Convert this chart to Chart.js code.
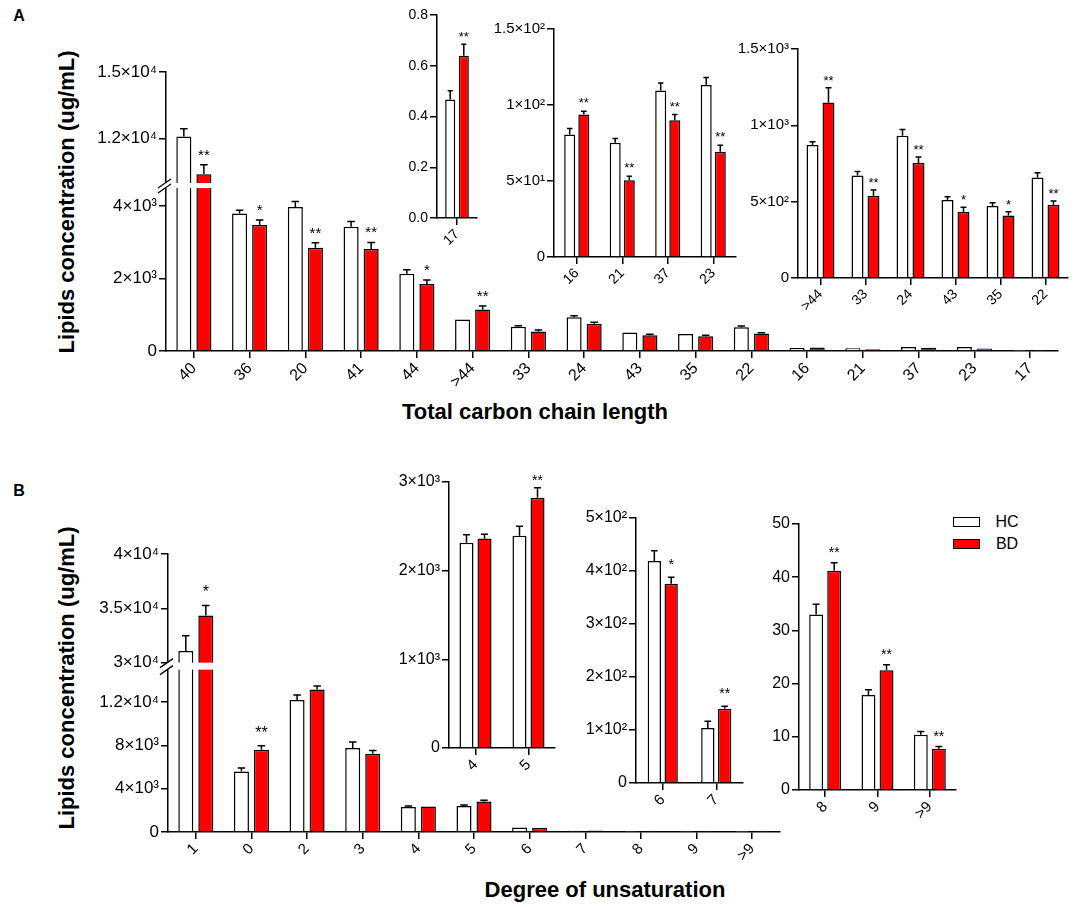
<!DOCTYPE html>
<html><head><meta charset="utf-8">
<script src="https://cdn.jsdelivr.net/npm/chart.js@4.4.0/dist/chart.umd.min.js"></script>
<style>
html,body{margin:0;padding:0;background:#fff;}
#page{position:relative;width:1084px;height:907px;overflow:hidden;font-family:'Liberation Sans',Arial,Helvetica,sans-serif;color:#000;background:#fff;}
.box{position:absolute;}
.t{position:absolute;white-space:nowrap;line-height:1;transform:translate(-50%,-50%);}
.b{font-weight:bold;}
.rot{transform:translate(-50%,-50%) rotate(-90deg);}
.sw{position:absolute;box-sizing:border-box;border:1.5px solid #000;}
</style></head>
<body><div id="page">
<div class="t b" style="left:19px;top:16px;font-size:16px;">A</div>
<div class="t b" style="left:19px;top:491px;font-size:16px;">B</div>
<div class="t b rot" style="left:67px;top:202px;font-size:22px;">Lipids concentration (ug/mL)</div>
<div class="t b rot" style="left:67px;top:678px;font-size:22px;">Lipids concentration (ug/mL)</div>
<div class="t b" style="left:535px;top:412px;font-size:22px;">Total carbon chain length</div>
<div class="t b" style="left:605px;top:890px;font-size:22px;">Degree of unsaturation</div>
<div class="sw" style="left:953px;top:517px;width:27px;height:10px;background:#fff;"></div>
<div class="sw" style="left:953px;top:539px;width:27px;height:10px;background:#ff0000;"></div>
<div class="t" style="left:1007px;top:522px;font-size:16px;">HC</div>
<div class="t" style="left:1007px;top:544px;font-size:16px;">BD</div>
</div>
<script>
// ---------- Panel A data: total carbon chain length ----------
const catsA   = ['40','36','20','41','44','>44','33','24','43','35','22','16','21','37','23','17'];
const hcA     = [12100, 3800, 3980, 3430, 2135, 871, 671, 932, 511, 472, 658, 80.6, 75.2, 109.5, 113.1, 0.467];
const hcErrA  = [350, 90, 150, 150, 110, 22, 26, 40, 22, 21, 31, 3.9, 2.8, 4.9, 5.0, 0.034];
const bdA     = [10400, 3480, 2850, 2820, 1850, 1149, 539, 753, 432, 410, 480, 93.7, 50.5, 90.0, 69.3, 0.639];
const bdErrA  = [430, 140, 140, 180, 110, 97, 38, 39, 31, 24, 25, 2.2, 2.6, 3.7, 4.3, 0.046];
const starsA     = ['**','*','**','**','*','**','**','**','*','*','**','**','**','**','**','**'];
const mainStarsA = ['**','*','**','**','*','**','','','','','','','','','',''];

// ---------- Panel B data: degree of unsaturation ----------
const catsB   = ['1','0','2','3','4','5','6','7','8','9','>9'];
const hcB     = [31080, 5600, 12200, 7760, 2316, 2395, 419, 104, 33.0, 17.85, 10.4];
const hcErrB  = [1400, 310, 460, 550, 90, 105, 19, 12.5, 1.9, 1.0, 0.6];
const bdB     = [34340, 7600, 13170, 7230, 2362, 2821, 376, 140, 41.2, 22.5, 7.76];
const bdErrB  = [920, 370, 310, 310, 50, 115, 12, 5, 1.5, 1.05, 0.4];
const starsB     = ['*','**','','','','**','*','**','**','**','**'];
const mainStarsB = ['*','**','','','','','','','','',''];

// ---------- tick values / labels ----------
const tickA    = [0, 2000, 4000, 12000, 15000];
const tickALbl = ['0','2×10³','4×10³','1.2×10⁴','1.5×10⁴'];
const tickA1    = [0, 0.2, 0.4, 0.6, 0.8];
const tickA1Lbl = ['0.0','0.2','0.4','0.6','0.8'];
const tickA2    = [0, 50, 100, 150];
const tickA2Lbl = ['0','5×10¹','1×10²','1.5×10²'];
const tickA3    = [0, 500, 1000, 1500];
const tickA3Lbl = ['0','5×10²','1×10³','1.5×10³'];
const tickB    = [0, 4000, 8000, 12000, 30000, 35000, 40000];
const tickBLbl = ['0','4×10³','8×10³','1.2×10⁴','3×10⁴','3.5×10⁴','4×10⁴'];
const tickB1    = [0, 1000, 2000, 3000];
const tickB1Lbl = ['0','1×10³','2×10³','3×10³'];
const tickB2    = [0, 100, 200, 300, 400, 500];
const tickB2Lbl = ['0','1×10²','2×10²','3×10²','4×10²','5×10²'];
const tickB3    = [0, 10, 20, 30, 40, 50];
const tickB3Lbl = ['0','10','20','30','40','50'];

const pick = (arr, idx) => idx.map(i => arr[i]);

Chart.defaults.font.family = "'Liberation Sans', Arial, Helvetica, sans-serif";
Chart.defaults.color = '#000';
Chart.defaults.animation = false;

// linear scale with an axis break (two linear segments)
class BrokenScale extends Chart.LinearScale {
  getPixelForValue(v) {
    const b = this.options.brk;
    if (!b) return super.getPixelForValue(v);
    const B = this.bottom, H = this.bottom - this.top;
    const hL = H * b.lowFrac, g = b.gap, hU = H - hL - g;
    if (v <= b.lowMax) return B - (v - this.min) / (b.lowMax - this.min) * hL;
    if (v >= b.highMin) return B - hL - g - (v - b.highMin) / (this.max - b.highMin) * hU;
    return B - hL - (v - b.lowMax) / (b.highMin - b.lowMax) * g;
  }
  getValueForPixel(p) {
    const b = this.options.brk;
    if (!b) return super.getValueForPixel(p);
    const B = this.bottom, H = this.bottom - this.top;
    const hL = H * b.lowFrac, g = b.gap, hU = H - hL - g;
    const d = B - p;
    if (d <= hL) return this.min + d / hL * (b.lowMax - this.min);
    if (d >= hL + g) return b.highMin + (d - hL - g) / hU * (this.max - b.highMin);
    return b.lowMax + (d - hL) / g * (b.highMin - b.lowMax);
  }
}
BrokenScale.id = 'broken';
Chart.register(BrokenScale);

const page = document.getElementById('page');

function makeChart(o) {
  const left = o.axL - o.yw, top = o.axT - o.padT;
  const W = (o.axR - o.axL) + o.yw + o.padR;
  const H = (o.axB - o.axT) + o.padT + o.xh;
  const div = document.createElement('div');
  div.className = 'box';
  div.style.cssText = `left:${left}px;top:${top}px;width:${W}px;height:${H}px;`;
  const cv = document.createElement('canvas');
  div.appendChild(cv);
  page.appendChild(div);

  const deco = {
    id: 'deco',
    afterDatasetsDraw(chart) {
      const ctx = chart.ctx, ys = chart.scales.y;
      ctx.save();
      ctx.strokeStyle = '#000';
      ctx.lineWidth = 1.5;
      [[o.hc, o.hcErr], [o.bd, o.bdErr]].forEach(([vals, errs], di) => {
        chart.getDatasetMeta(di).data.forEach((bar, i) => {
          const topPx = ys.getPixelForValue(vals[i] + errs[i]);
          if (bar.y - topPx < 0.8) return;
          const cw = bar.width * 0.25;
          ctx.beginPath();
          ctx.moveTo(bar.x, bar.y); ctx.lineTo(bar.x, topPx);
          ctx.moveTo(bar.x - cw, topPx); ctx.lineTo(bar.x + cw, topPx);
          ctx.stroke();
        });
      });
      ctx.fillStyle = '#000';
      ctx.font = `${o.starFont}px 'Liberation Sans', Arial, sans-serif`;
      ctx.textAlign = 'center';
      ctx.textBaseline = 'alphabetic';
      const meta = chart.getDatasetMeta(1);
      o.stars.forEach((s, i) => {
        if (!s) return;
        const bar = meta.data[i];
        const topPx = ys.getPixelForValue(o.bd[i] + o.bdErr[i]);
        ctx.fillText(s, bar.x, topPx - o.starOff);
      });
      if (o.brk) {
        const yLo = ys.getPixelForValue(o.brk.lowMax), yHi = ys.getPixelForValue(o.brk.highMin);
        const ax = chart.chartArea.left;
        ctx.fillStyle = '#fff';
        ctx.fillRect(ax - 2, yHi, chart.chartArea.right - ax + 3, yLo - yHi);
        ctx.strokeStyle = '#000';
        ctx.lineWidth = 1.3;
        [yLo, yHi].forEach(yy => {
          ctx.beginPath();
          ctx.moveTo(ax - 8, yy + 5); ctx.lineTo(ax + 5, yy - 4);
          ctx.stroke();
        });
      }
      ctx.restore();
    }
  };

  new Chart(cv, {
    type: 'bar',
    data: {
      labels: o.cats,
      datasets: [
        { label: 'HC', data: o.hc, backgroundColor: '#ffffff', borderColor: '#000', borderWidth: 1.5,
          categoryPercentage: o.catPct, barPercentage: o.barPct },
        { label: 'BD', data: o.bd, backgroundColor: '#ff0000', borderColor: '#000', borderWidth: 1.5,
          categoryPercentage: o.catPct, barPercentage: o.barPct }
      ]
    },
    options: {
      responsive: true,
      maintainAspectRatio: false,
      events: [],
      layout: { padding: { top: o.padT, right: o.padR, left: 0, bottom: 0 } },
      plugins: { legend: { display: false }, tooltip: { enabled: false } },
      scales: {
        x: {
          type: 'category',
          offset: true,
          grid: { offset: false, drawOnChartArea: false, drawTicks: true, tickLength: 7, color: '#000', lineWidth: 1.5 },
          border: { display: true, color: '#000', width: 1.5 },
          ticks: { color: '#000', font: { size: o.xFont }, minRotation: 45, maxRotation: 45, padding: 1, autoSkip: false },
          afterFit: s => { s.height = o.xh; }
        },
        y: {
          type: o.brk ? 'broken' : 'linear',
          min: 0, max: o.yMax,
          brk: o.brk || null,
          grid: { drawOnChartArea: false, drawTicks: true, tickLength: 7, color: '#000', lineWidth: 1.5 },
          border: { display: true, color: '#000', width: 1.5 },
          ticks: { color: '#000', font: { size: o.yFont }, padding: 2, callback: (v, i) => o.tickLbls[i] },
          afterBuildTicks: s => { s.ticks = o.tickVals.map(v => ({ value: v })); },
          afterFit: s => { s.width = o.yw; }
        }
      }
    },
    plugins: [deco]
  });
}

// Panel A main
makeChart({ axL:166, axR:1058, axT:72, axB:351, yw:110, xh:45, padT:17, padR:14,
  cats: catsA, hc: hcA, hcErr: hcErrA, bd: bdA, bdErr: bdErrA, stars: mainStarsA,
  yMax: 15000, brk: { lowMax: 4500, highMin: 10000, lowFrac: 0.584, gap: 5 },
  tickVals: tickA, tickLbls: tickALbl, yFont: 17, xFont: 16, catPct: 0.72, barPct: 0.75, starFont: 15, starOff: 5 });

// Panel A inset: 17
const iA1 = [15];
makeChart({ axL:437, axR:477, axT:15, axB:218, yw:50, xh:36, padT:12, padR:10,
  cats: pick(catsA,iA1), hc: pick(hcA,iA1), hcErr: pick(hcErrA,iA1), bd: pick(bdA,iA1), bdErr: pick(bdErrA,iA1), stars: pick(starsA,iA1),
  yMax: 0.8, tickVals: tickA1, tickLbls: tickA1Lbl, yFont: 14, xFont: 14, catPct: 0.68, barPct: 0.74, starFont: 13, starOff: 3 });

// Panel A inset: 16, 21, 37, 23
const iA2 = [11,12,13,14];
makeChart({ axL:554, axR:736, axT:29, axB:257, yw:65, xh:40, padT:16, padR:10,
  cats: pick(catsA,iA2), hc: pick(hcA,iA2), hcErr: pick(hcErrA,iA2), bd: pick(bdA,iA2), bdErr: pick(bdErrA,iA2), stars: pick(starsA,iA2),
  yMax: 150, tickVals: tickA2, tickLbls: tickA2Lbl, yFont: 15, xFont: 14, catPct: 0.62, barPct: 0.78, starFont: 13, starOff: 4 });

// Panel A inset: >44 ... 22
const iA3 = [5,6,7,8,9,10];
makeChart({ axL:798, axR:1068, axT:49, axB:278, yw:65, xh:40, padT:16, padR:10,
  cats: pick(catsA,iA3), hc: pick(hcA,iA3), hcErr: pick(hcErrA,iA3), bd: pick(bdA,iA3), bdErr: pick(bdErrA,iA3), stars: pick(starsA,iA3),
  yMax: 1500, tickVals: tickA3, tickLbls: tickA3Lbl, yFont: 15, xFont: 14, catPct: 0.71, barPct: 0.75, starFont: 13, starOff: 3 });

// Panel B main
makeChart({ axL:168, axR:780, axT:554, axB:832, yw:112, xh:45, padT:17, padR:14,
  cats: catsB, hc: hcB, hcErr: hcErrB, bd: bdB, bdErr: bdErrB, stars: mainStarsB,
  yMax: 40000, brk: { lowMax: 15000, highMin: 30000, lowFrac: 0.584, gap: 7 },
  tickVals: tickB, tickLbls: tickBLbl, yFont: 17, xFont: 15, catPct: 0.72, barPct: 0.75, starFont: 16, starOff: 8 });

// Panel B inset: 4, 5
const iB1 = [4,5];
makeChart({ axL:449, axR:555, axT:482, axB:748, yw:60, xh:38, padT:15, padR:10,
  cats: pick(catsB,iB1), hc: pick(hcB,iB1), hcErr: pick(hcErrB,iB1), bd: pick(bdB,iB1), bdErr: pick(bdErrB,iB1), stars: pick(starsB,iB1),
  yMax: 3000, tickVals: tickB1, tickLbls: tickB1Lbl, yFont: 16, xFont: 15, catPct: 0.68, barPct: 0.78, starFont: 14, starOff: 3 });

// Panel B inset: 6, 7
const iB2 = [6,7];
makeChart({ axL:636, axR:743, axT:518, axB:783, yw:60, xh:38, padT:15, padR:10,
  cats: pick(catsB,iB2), hc: pick(hcB,iB2), hcErr: pick(hcErrB,iB2), bd: pick(bdB,iB2), bdErr: pick(bdErrB,iB2), stars: pick(starsB,iB2),
  yMax: 500, tickVals: tickB2, tickLbls: tickB2Lbl, yFont: 16, xFont: 15, catPct: 0.63, barPct: 0.79, starFont: 14, starOff: 8 });

// Panel B inset: 8, 9, >9
const iB3 = [8,9,10];
makeChart({ axL:799, axR:956, axT:524, axB:790, yw:45, xh:38, padT:15, padR:10,
  cats: pick(catsB,iB3), hc: pick(hcB,iB3), hcErr: pick(hcErrB,iB3), bd: pick(bdB,iB3), bdErr: pick(bdErrB,iB3), stars: pick(starsB,iB3),
  yMax: 50, tickVals: tickB3, tickLbls: tickB3Lbl, yFont: 16, xFont: 15, catPct: 0.69, barPct: 0.77, starFont: 14, starOff: 6 });
</script>
</body></html>
